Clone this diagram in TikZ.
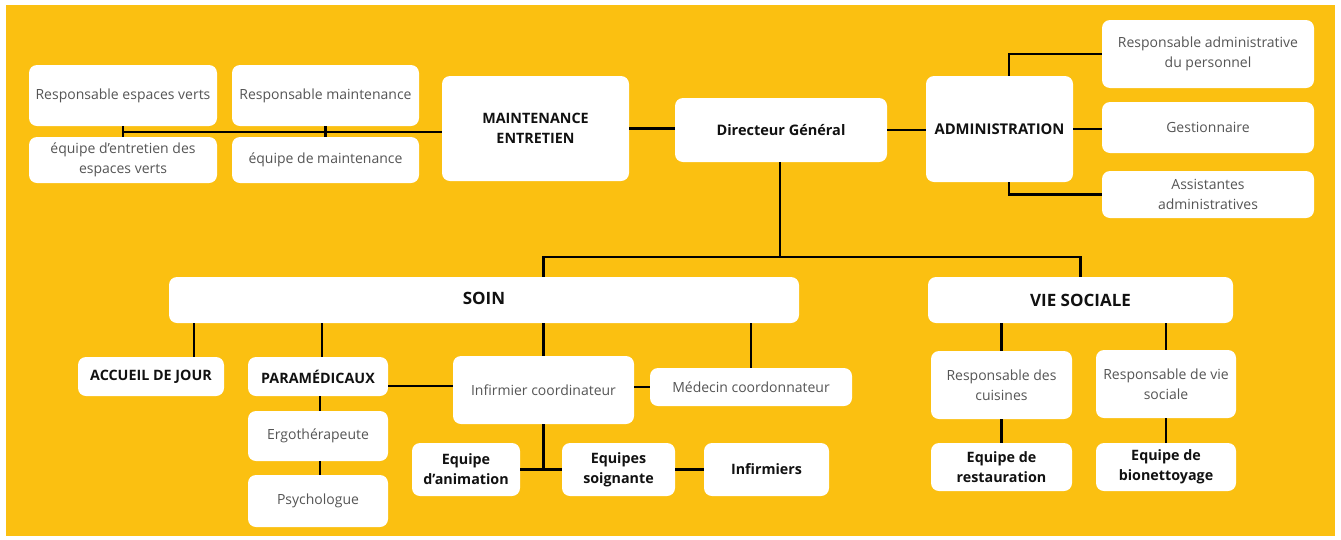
\documentclass[tikz,border=0pt]{standalone}
\usepackage{fontspec}
\defaultfontfeatures{}
\setmainfont{Open Sans}
\definecolor{bgyellow}{HTML}{FBC011}
\definecolor{greytxt}{HTML}{555555}
\definecolor{darktxt}{HTML}{111111}
\begin{document}
\begin{tikzpicture}[x=1pt,y=-1pt,
  box/.style={fill=white,draw=none,rounded corners=8pt,inner sep=0pt,align=center},
  lite/.style={box,text=greytxt,font=\fontsize{14}{19.5}\selectfont},
  bold/.style={box,text=darktxt,font=\bfseries\fontsize{14.3}{20}\selectfont},
  big/.style={box,text=darktxt,font=\bfseries\fontsize{17}{20}\selectfont},
  link/.style={draw=black,line width=2.2pt}]
\useasboundingbox (0,0) rectangle (1341,539);
\fill[white] (0,0) rectangle (1341,539);
\fill[bgyellow] (6,5) rectangle (1335,536);
% top left
\node[lite,minimum width=188,minimum height=61] (rev) at (123,95.5) {Responsable espaces verts};
\node[lite,minimum width=187,minimum height=61] (rmaint) at (325.5,95.5) {Responsable maintenance};
\node[lite,minimum width=188,minimum height=46] (eev) at (123,160) {équipe d'entretien des\\espaces verts};
\node[lite,minimum width=187,minimum height=46] (emaint) at (325.5,160) {équipe de maintenance};
\node[bold,minimum width=187,minimum height=105] (maint) at (535.5,128.5) {MAINTENANCE\\ENTRETIEN};
\node[bold,font=\bfseries\fontsize{14.5}{20}\selectfont,minimum width=212,minimum height=64] (dg) at (781,130) {Directeur Général};
\node[bold,font=\bfseries\fontsize{14.8}{20}\selectfont,minimum width=147,minimum height=106] (admin) at (999.5,129) {ADMINISTRATION};
\node[lite,minimum width=212,minimum height=68] (rap) at (1208,54) {Responsable administrative\\du personnel};
\node[lite,minimum width=212,minimum height=51] (gest) at (1208,127.5) {Gestionnaire};
\node[lite,minimum width=212,minimum height=47] (assist) at (1208,194.5) {Assistantes\\administratives};
% middle
\node[big,minimum width=630,minimum height=46] (soin) at (484,300) {\raisebox{3pt}{SOIN}};
\node[big,minimum width=305,minimum height=46] (vs) at (1080.5,300) {VIE SOCIALE};
% bottom left
\node[bold,minimum width=146,minimum height=39] (accueil) at (151,376.5) {ACCUEIL DE JOUR};
\node[bold,minimum width=140,minimum height=39] (para) at (318,376.5) {PARAMÉDICAUX};
\node[lite,minimum width=140,minimum height=50] (ergo) at (318,436) {Ergothérapeute};
\node[lite,minimum width=140,minimum height=52] (psycho) at (318,501) {Psychologue};
\node[lite,minimum width=181,minimum height=68] (infc) at (543.5,390) {Infirmier coordinateur};
\node[lite,minimum width=202,minimum height=38] (med) at (751,387) {Médecin coordonnateur};
\node[bold,minimum width=108,minimum height=53] (eanim) at (466,469.5) {Equipe\\d'animation};
\node[bold,minimum width=113,minimum height=53] (esoig) at (618.5,469.5) {Equipes\\soignante};
\node[bold,minimum width=125,minimum height=53] (infs) at (766.5,469.5) {Infirmiers};
% bottom right
\node[lite,minimum width=141,minimum height=68] (rcuis) at (1001.5,385) {Responsable des\\cuisines};
\node[lite,minimum width=140,minimum height=68] (rvs) at (1166,384) {Responsable de vie\\sociale};
\node[bold,minimum width=141,minimum height=48] (erest) at (1001.5,467) {Equipe de\\restauration};
\node[bold,minimum width=140,minimum height=48] (ebio) at (1166,467) {Equipe de\\bionettoyage};
% connectors
\coordinate (mj) at (123,132);
\draw[link] ([yshift=-3.5]maint.west) -- (mj);
\draw[link] (rev.south) -- (eev.north);
\draw[link] (rmaint.south) -- (emaint.north);
\draw[link] (maint.east) -- (maint.east -| dg.west);
\draw[link] (dg.east) -- (dg.east -| admin.west);
\draw[link] ([xshift=9.5]admin.north) |- (rap.west);
\draw[link] (admin.east) -- (admin.east -| gest.west);
\draw[link] ([xshift=9.5]admin.south) |- (assist.west);
\coordinate (bus) at (780,257);
\draw[link] (dg.south -| bus) -- (bus);
\draw[link] (soin.north -| infc.north) |- (bus) -| (vs.north);
\draw[link] ([xshift=43]accueil.north) -- ([xshift=43]accueil.north |- soin.south);
\draw[link] ([xshift=4]para.north) -- ([xshift=4]para.north |- soin.south);
\draw[link] (infc.north) -- (infc.north |- soin.south);
\draw[link] (med.north) -- (med.north |- soin.south);
\draw[link] ([yshift=-9.5]para.east) -- ([yshift=-9.5]para.east -| infc.west);
\draw[link] (med.west -| infc.east) -- (med.west);
\draw[link] ([xshift=2]para.south) -- ([xshift=2]ergo.north);
\draw[link] ([xshift=2]ergo.south) -- ([xshift=2]psycho.north);
\draw[link] (infc.south) -- (infc.south |- esoig.west);
\draw[link] (eanim.east) -- (esoig.west);
\draw[link] (esoig.east) -- (infs.west);
\draw[link] (rcuis.north) -- (rcuis.north |- vs.south);
\draw[link] (rvs.north) -- (rvs.north |- vs.south);
\draw[link] (rcuis.south) -- (erest.north);
\draw[link] (rvs.south) -- (ebio.north);
\end{tikzpicture}
\end{document}
